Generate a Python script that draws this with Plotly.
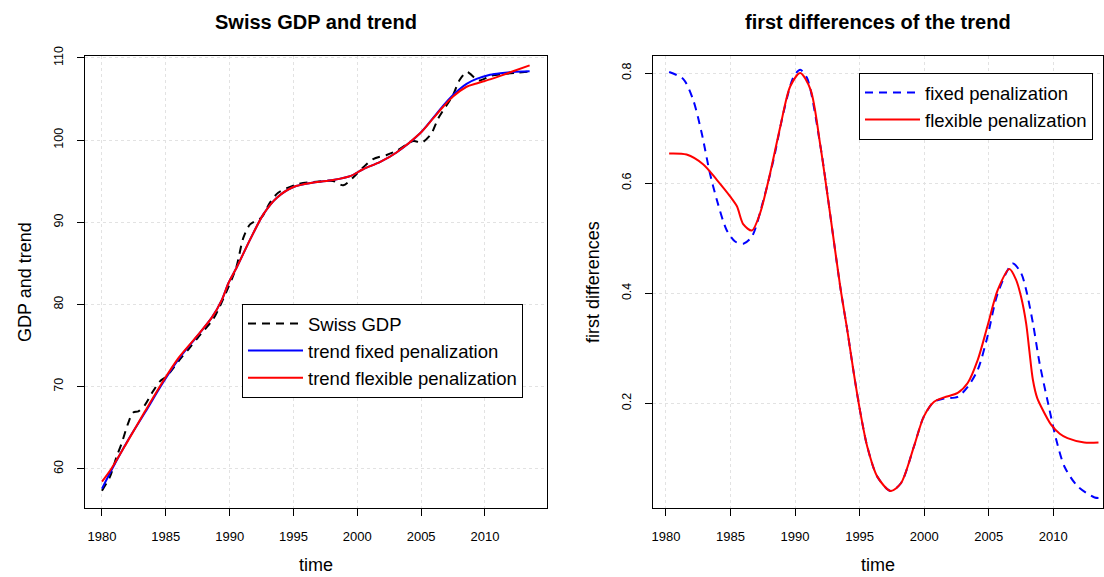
import plotly.graph_objects as go

# ---------------- data ----------------
gdp_time = [1980.0, 1980.63, 1981.15, 1981.54, 1982.06, 1982.45, 1982.85, 1983.37, 1983.9,
            1984.54, 1985.07, 1985.6, 1986.2, 1986.85, 1987.5, 1988.04, 1988.7, 1989.24,
            1989.76, 1990.16, 1990.55, 1991.07, 1991.6, 1992.5, 1993.16, 1993.8, 1995.24,
            1996.8, 1998.1, 1998.9, 1999.67, 2000.45, 2001.24, 2002.3, 2003.07, 2004.4,
            2005.03, 2005.8, 2006.34, 2007.5, 2008.0, 2008.56, 2008.82, 2009.5, 2010.5,
            2011.5, 2012.5, 2013.5]
gdp_value = [57.35, 59.06, 61.5, 63.1, 65.6, 66.87, 67.0, 67.8, 69.2,
             70.65, 71.26, 72.3, 73.5, 74.7, 75.95, 76.95, 78.2, 79.8,
             81.6, 83.05, 84.67, 88.1, 89.75, 90.6, 92.4, 93.6, 94.6,
             94.95, 95.04, 94.5, 95.45, 96.67, 97.7, 98.2, 98.7, 99.9,
             99.7, 100.8, 102.65, 105.5, 107.3, 108.3, 108.1, 107.25, 107.85,
             108.05, 108.2, 108.35]

trend_time_flex = [1980.0, 1980.76, 1982.06, 1983.37, 1984.7, 1986.0, 1987.3, 1988.6, 1989.4,
                   1989.92, 1990.55, 1991.6, 1992.65, 1993.7, 1995.0, 1996.57, 1998.1, 1999.5,
                   2000.45, 2001.8, 2003.07, 2004.9, 2005.94, 2006.73, 2007.5, 2008.56,
                   2009.34, 2010.4, 2011.2, 2012.2, 2013.5]
trend_flex = [58.45, 60.08, 63.5, 67.0, 70.45, 73.5, 75.9, 78.4, 80.6,
              82.65, 84.5, 87.9, 91.0, 93.0, 94.3, 94.84, 95.16, 95.66,
              96.46, 97.35, 98.5, 100.8, 102.65, 104.06, 105.3, 106.5,
              106.9, 107.4, 107.82, 108.38, 109.1]

trend_time_fixed = [1980.0, 1980.76, 1982.06, 1983.37, 1984.7, 1986.0, 1987.3, 1988.6, 1989.4,
                    1989.92, 1990.55, 1991.6, 1992.65, 1993.7, 1995.0, 1996.57, 1998.1, 1999.5,
                    2000.45, 2001.8, 2003.07, 2004.9, 2005.94, 2006.73, 2007.5, 2008.0, 2008.56,
                    2009.34, 2010.4, 2011.2, 2012.2, 2013.5]
trend_fixed = [57.6, 59.9, 63.55, 66.85, 70.3, 73.35, 75.85, 78.4, 80.6,
               82.65, 84.5, 87.9, 91.0, 93.0, 94.3, 94.84, 95.16, 95.66,
               96.46, 97.35, 98.5, 100.8, 102.7, 104.2, 105.5, 106.2, 106.85,
               107.45, 107.95, 108.15, 108.3, 108.38]

diff_time_fixed = [1980.25, 1981.35, 1982.1, 1982.77, 1983.4, 1983.94, 1984.7, 1985.36, 1986.0,
                   1986.66, 1987.56, 1988.34, 1989.1, 1989.9, 1990.4, 1990.93, 1991.97, 1992.74,
                   1993.5, 1994.04, 1994.55, 1995.07, 1995.6, 1996.37, 1997.4, 1998.2, 1999.2,
                   1999.97, 2000.77, 2001.55, 2002.6, 2003.37, 2004.15, 2004.9, 2005.7, 2006.86,
                   2007.5, 2007.9, 2008.42, 2008.94, 2009.6, 2010.23, 2010.87, 2011.9, 2013.2, 2013.5]
diff_fixed = [0.802, 0.789, 0.752, 0.691, 0.619, 0.57, 0.515, 0.494, 0.49,
              0.503, 0.57, 0.643, 0.728, 0.794, 0.806, 0.791, 0.667, 0.54,
              0.412, 0.334, 0.255, 0.182, 0.121, 0.067, 0.041, 0.055, 0.121,
              0.176, 0.203, 0.209, 0.212, 0.23, 0.261, 0.321, 0.40, 0.454,
              0.437, 0.406, 0.346, 0.273, 0.2, 0.134, 0.085, 0.049, 0.029, 0.028]

diff_time_flex = [1980.25, 1981.6, 1982.9, 1983.94, 1984.97, 1985.5, 1986.0, 1986.66, 1987.3,
                  1988.08, 1988.86, 1989.63, 1990.4, 1991.2, 1991.97, 1992.74, 1993.5, 1994.04,
                  1994.55, 1995.07, 1995.6, 1996.37, 1997.4, 1998.2, 1999.2, 1999.97, 2000.77,
                  2001.55, 2002.6, 2003.37, 2004.15, 2004.9, 2005.7, 2006.6, 2007.12, 2007.5,
                  2007.9, 2008.15, 2008.42, 2008.75, 2009.06, 2009.84, 2010.5, 2011.1, 2012.4, 2013.5]
diff_flex = [0.654, 0.652, 0.634, 0.606, 0.576, 0.558, 0.525, 0.514, 0.546,
             0.619, 0.703, 0.776, 0.80, 0.77, 0.667, 0.54, 0.412, 0.334,
             0.255, 0.182, 0.121, 0.067, 0.041, 0.055, 0.121, 0.176, 0.203,
             0.211, 0.219, 0.237, 0.279, 0.34, 0.406, 0.444, 0.4245, 0.394,
             0.345, 0.295, 0.243, 0.21, 0.194, 0.161, 0.145, 0.137, 0.129, 0.129]

x_ticks = [1980, 1985, 1990, 1995, 2000, 2005, 2010]
y_ticks_left = [60, 70, 80, 90, 100, 110]
y_ticks_right = [0.2, 0.4, 0.6, 0.8]

# ---------------- figure ----------------
FONT = "Liberation Sans, Arial, Helvetica, sans-serif"
W, H = 1104, 577

fig = go.Figure()

fig.add_trace(go.Scatter(x=gdp_time, y=gdp_value, mode="lines", name="Swiss GDP",
                         line=dict(color="black", width=2, dash="8px,6px", shape="spline", smoothing=0.8),
                         xaxis="x", yaxis="y", legend="legend"))
fig.add_trace(go.Scatter(x=trend_time_fixed, y=trend_fixed, mode="lines", name="trend fixed penalization",
                         line=dict(color="blue", width=2, shape="spline", smoothing=0.8),
                         xaxis="x", yaxis="y", legend="legend"))
fig.add_trace(go.Scatter(x=trend_time_flex, y=trend_flex, mode="lines", name="trend flexible penalization",
                         line=dict(color="red", width=2, shape="spline", smoothing=0.8),
                         xaxis="x", yaxis="y", legend="legend"))

fig.add_trace(go.Scatter(x=diff_time_fixed, y=diff_fixed, mode="lines", name="fixed penalization",
                         line=dict(color="blue", width=2, dash="8px,6px", shape="spline", smoothing=0.8),
                         xaxis="x2", yaxis="y2", legend="legend2"))
fig.add_trace(go.Scatter(x=diff_time_flex, y=diff_flex, mode="lines", name="flexible penalization",
                         line=dict(color="red", width=2, shape="spline", smoothing=0.8),
                         xaxis="x2", yaxis="y2", legend="legend2"))

ydom = [1 - 508 / H, 1 - 56 / H]

axis_common = dict(showline=True, linecolor="black", linewidth=1, mirror=True,
                   ticks="outside", ticklen=7, tickcolor="black", tickwidth=1,
                   showgrid=True, gridcolor="#e2e2e2", griddash="dot", gridwidth=1,
                   zeroline=False, automargin=False)

xfont = dict(family=FONT, size=13, color="black")
yfont = dict(family=FONT, size=12.5, color="black")

fig.update_layout(
    width=W, height=H, autosize=False,
    margin=dict(l=0, r=0, t=0, b=0, pad=0, autoexpand=False),
    paper_bgcolor="white", plot_bgcolor="white",
    font=dict(family=FONT, color="black"),
    xaxis=dict(domain=[85 / W, 547 / W], range=[1978.67, 2014.86], tickvals=x_ticks,
               anchor="y", tickfont=xfont, ticklabelstandoff=9, **axis_common),
    yaxis=dict(domain=ydom, range=[55.24, 110.24], tickvals=y_ticks_left, tickangle=-90,
               anchor="x", tickfont=yfont, ticklabelstandoff=9, **axis_common),
    xaxis2=dict(domain=[653 / W, 1103 / W], range=[1979.0, 2013.85], tickvals=x_ticks,
                anchor="y2", tickfont=xfont, ticklabelstandoff=9, **axis_common),
    yaxis2=dict(domain=ydom, range=[0.01, 0.831], tickvals=y_ticks_right,
                ticktext=["0.2", "0.4", "0.6", "0.8"], tickangle=-90,
                anchor="x2", tickfont=yfont, ticklabelstandoff=9, **axis_common),
    legend=dict(x=242 / W, y=1 - 304 / H, xanchor="left", yanchor="top",
                bgcolor="white", bordercolor="black", borderwidth=1,
                font=dict(family=FONT, size=18.5, color="black"), itemwidth=55,
                tracegroupgap=0),
    legend2=dict(x=859 / W, y=1 - 73 / H, xanchor="left", yanchor="top",
                 bgcolor="white", bordercolor="black", borderwidth=1,
                 font=dict(family=FONT, size=18.5, color="black"), itemwidth=55,
                 tracegroupgap=0),
    showlegend=True,
)

def ann(text, x, y, size, bold=False, angle=0):
    fig.add_annotation(text=f"<b>{text}</b>" if bold else text, x=x / W, y=1 - y / H,
                       xref="paper", yref="paper", showarrow=False, textangle=angle,
                       xanchor="center", yanchor="middle",
                       font=dict(family=FONT, size=size, color="black"))

ann("Swiss GDP and trend", 316, 22, 20, bold=True)
ann("first differences of the trend", 878, 22, 20, bold=True)
ann("time", 316, 565, 18)
ann("time", 878, 565, 18)
ann("GDP and trend", 25, 282, 18, angle=-90)
ann("first differences", 593, 282, 18, angle=-90)

fig.write_html("out.html",
               config={"displayModeBar": False},
               post_script="document.body.style.margin='0';document.body.style.overflow='hidden';")
